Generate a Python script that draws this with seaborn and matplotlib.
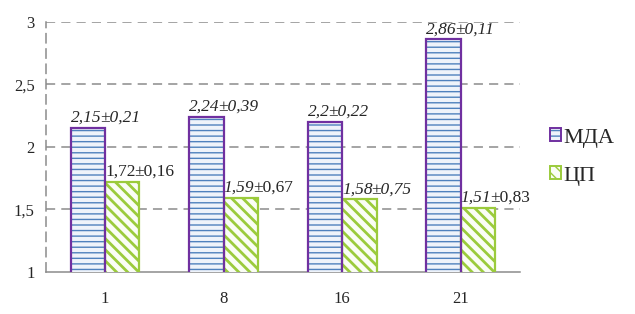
import seaborn as sns
import matplotlib.pyplot as plt
import pandas as pd
import numpy as np
from matplotlib.patches import Rectangle, Patch

# data
days = ["1", "8", "16", "21"]
series = ["МДА", "ЦП"]
mda_values = [2.15, 2.24, 2.2, 2.86]
cp_values = [1.72, 1.59, 1.58, 1.51]
mda_err = ["0,21", "0,39", "0,22", "0,11"]
cp_err = ["0,16", "0,67", "0,75", "0,83"]
# which parts of the ЦП labels are set in italics (value part / ± part)
cp_head_italic = [False, True, True, True]
cp_tail_italic = [False, False, True, False]

df = pd.DataFrame({
    "day": days * 2,
    "series": [series[0]] * 4 + [series[1]] * 4,
    "value": mda_values + cp_values,
})

sns.set_style("white")
plt.rcParams["font.family"] = ["Liberation Serif", "DejaVu Serif"]
plt.rcParams["hatch.linewidth"] = 1.0

purple = "#7030A0"
blue = "#4F81BD"
green = "#9BCB3C"
grey = "#8C8C8C"

fig = plt.figure(figsize=(6.35, 3.14), dpi=100)
ax = fig.add_axes([0.072, 0.134, 0.747, 0.796])

sns.barplot(data=df, x="day", y="value", hue="series", hue_order=series,
            order=days, width=0.58, palette=[blue, green], legend=False,
            ax=ax, zorder=3)

mda_bars = ax.containers[0]
cp_bars = ax.containers[1]
for p in mda_bars:
    p.set_facecolor("#EEF3FA")
    p.set_edgecolor(blue)
    p.set_hatch("---")
    p.set_linewidth(0)
    ax.add_patch(Rectangle(p.get_xy(), p.get_width(), p.get_height(),
                           fill=False, edgecolor=purple, lw=1.6, zorder=4))
for p in cp_bars:
    p.set_facecolor("#FAFDF5")
    p.set_edgecolor(green)
    p.set_hatch("\\\\\\")
    p.set_linewidth(1.6)
    if hasattr(p, "set_hatch_linewidth"):
        p.set_hatch_linewidth(2.0)

ax.set_ylim(1, 3)
ax.set_xlim(-0.5, 3.5)
ax.set_yticks([1, 1.5, 2, 2.5, 3])
ax.set_yticklabels(["1", "1,5", "2", "2,5", "3"], fontsize=12)
ax.set_xticks(np.arange(-0.5, 4, 1))
ax.set_xticklabels([""] * 5)
ax.set_xticks(range(4), labels=days, minor=True)
ax.tick_params(axis="x", which="minor", length=0, pad=14, labelsize=12)
ax.tick_params(axis="x", which="major", length=4, color=grey, width=0.8)
ax.tick_params(axis="y", direction="inout", length=8, color=grey, width=0.8,
               pad=4)
ax.set_xlabel("")
ax.set_ylabel("")

for y in [1.5, 2, 2.5, 3]:
    ax.axhline(y, color=grey, lw=1.1, ls=(0, (6, 4)), zorder=1)

for s in ["top", "right"]:
    ax.spines[s].set_visible(False)
ax.spines["left"].set_color(grey)
ax.spines["left"].set_linestyle((0, (6, 4)))
ax.spines["left"].set_linewidth(1.1)
ax.spines["bottom"].set_color(grey)
ax.spines["bottom"].set_linewidth(1.1)


def label(bar, head, tail, head_it, tail_it):
    t1 = ax.annotate(head, xy=(bar.get_x(), bar.get_height()),
                     xytext=(0, 1.5), textcoords="offset points",
                     ha="left", va="bottom", fontsize=12.5,
                     style="italic" if head_it else "normal", zorder=5)
    ax.annotate(tail, xy=(1, 0), xycoords=t1, xytext=(-1, 0),
                textcoords="offset points", ha="left", va="bottom",
                fontsize=12.5, style="italic" if tail_it else "normal",
                zorder=5)


for i, p in enumerate(mda_bars):
    v = f"{mda_values[i]:g}".replace(".", ",")
    label(p, v, "±" + mda_err[i], True, True)
for i, p in enumerate(cp_bars):
    v = f"{cp_values[i]:g}".replace(".", ",")
    label(p, v, "±" + cp_err[i], cp_head_italic[i], cp_tail_italic[i])

handles = [
    Patch(facecolor="#EEF3FA", edgecolor=purple, hatch="---", lw=1.4),
    Patch(facecolor="#FAFDF5", edgecolor=green, hatch="\\\\\\", lw=1.4),
]
handles[0]._hatch_color = (0.31, 0.51, 0.74, 1)
fig.legend(handles, series, loc="center left", bbox_to_anchor=(0.835, 0.5),
           frameon=False, fontsize=16, handlelength=0.5, handleheight=0.5,
           handletextpad=0.1, labelspacing=0.85)

plt.savefig("out.png", dpi=100)
